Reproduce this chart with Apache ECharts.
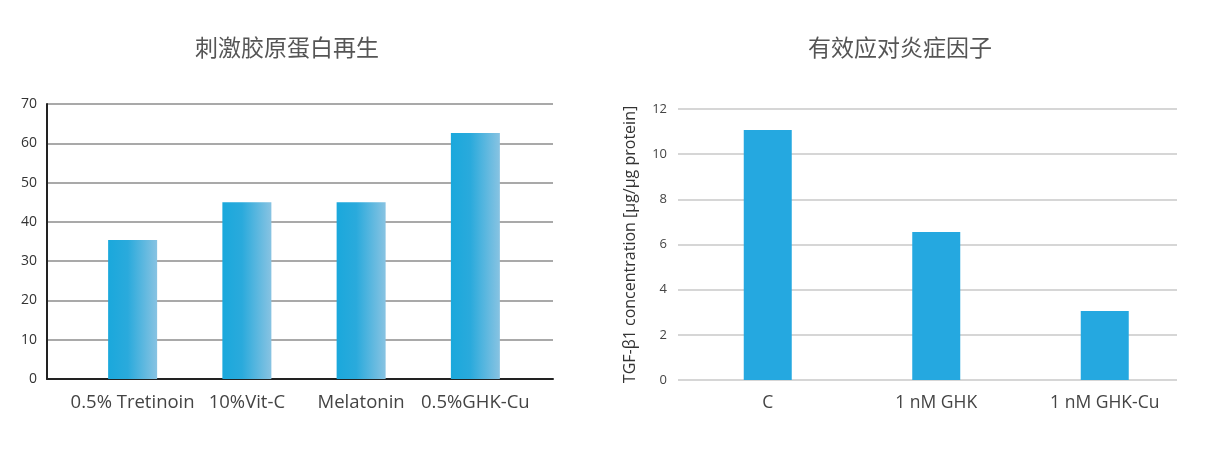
<!DOCTYPE html>
<html>
<head>
<meta charset="utf-8">
<script src="https://cdn.jsdelivr.net/npm/echarts@6/dist/echarts.min.js"></script>
<style>
html,body{margin:0;padding:0;background:#fff;}
#c{width:1211px;height:451px;}
</style>
</head>
<body>
<div id="c"></div>
<script>
const leftTitle = '刺激胶原蛋白再生';
const leftCategories = ['0.5% Tretinoin', '10%Vit-C', 'Melatonin', '0.5%GHK-Cu'];
const leftValues = [35.4, 45.0, 45.0, 62.6];

const rightTitle = '有效应对炎症因子';
const rightCategories = ['C', '1 nM GHK', '1 nM GHK-Cu'];
const rightValues = [11.07, 6.55, 3.05];
const rightAxisName = 'TGF-β1 concentration [μg/μg protein]';

const CJK = '"Noto Sans CJK SC", sans-serif';
const LAT = '"Open Sans", "Noto Sans", sans-serif';
const chart = echarts.init(document.getElementById('c'), null, {renderer: 'canvas'});

const grad = new echarts.graphic.LinearGradient(0, 0, 1, 0, [
  {offset: 0, color: '#1aa8dc'},
  {offset: 0.4, color: '#2aaadc'},
  {offset: 1, color: '#88c3e2'}
]);

chart.setOption({
  animation: false,
  backgroundColor: '#fff',
  textStyle: {fontFamily: LAT},
  title: [
    {text: leftTitle, left: 282, top: 31, textAlign: 'center',
     textStyle: {fontSize: 23, fontWeight: 'normal', color: '#555', fontFamily: CJK}},
    {text: rightTitle, left: 895, top: 31, textAlign: 'center',
     textStyle: {fontSize: 23, fontWeight: 'normal', color: '#555', fontFamily: CJK}}
  ],
  grid: [
    {left: 47, width: 506, top: 104, height: 275},
    {left: 75.5, width: 457, top: 104, height: 275},
    {left: 678, width: 499, top: 109, height: 271},
    {left: 683.5, width: 505.5, top: 109, height: 271}
  ],
  xAxis: [
    {gridIndex: 0, type: 'value', min: 0, max: 1, axisLabel: {show: false}, axisTick: {show: false},
     splitLine: {show: false}, axisLine: {show: true, lineStyle: {color: '#222', width: 2}}},
    {gridIndex: 1, type: 'category', data: leftCategories, axisLine: {show: false}, axisTick: {show: false},
     axisLabel: {interval: 0, fontSize: 18.5, color: '#444', margin: 14, fontFamily: LAT}},
    {gridIndex: 2, type: 'value', min: 0, max: 1, show: false},
    {gridIndex: 3, type: 'category', data: rightCategories, axisLine: {show: false}, axisTick: {show: false},
     axisLabel: {interval: 0, fontSize: 17.5, color: '#444', margin: 14, fontFamily: LAT}}
  ],
  yAxis: [
    {gridIndex: 0, type: 'value', min: 0, max: 70, interval: 10,
     axisLine: {show: true, lineStyle: {color: '#222', width: 2}}, axisTick: {show: false},
     axisLabel: {fontSize: 14, color: '#333', margin: 10, fontFamily: LAT},
     splitLine: {show: true, lineStyle: {color: '#8c8c8c', width: 1.5}}},
    {gridIndex: 1, type: 'value', min: 0, max: 70, show: false},
    {gridIndex: 2, type: 'value', min: 0, max: 12, interval: 2,
     axisLine: {show: false}, axisTick: {show: false},
     axisLabel: {fontSize: 13, color: '#444', margin: 11, fontFamily: LAT},
     splitLine: {show: true, lineStyle: {color: '#c8c8c8', width: 1.5}},
     name: rightAxisName, nameLocation: 'middle', nameRotate: 90, nameGap: 40,
     nameTextStyle: {fontSize: 16, color: '#333', fontFamily: LAT}},
    {gridIndex: 3, type: 'value', min: 0, max: 12, show: false}
  ],
  series: [
    {type: 'bar', xAxisIndex: 1, yAxisIndex: 1, data: leftValues, barWidth: 49,
     itemStyle: {color: grad}},
    {type: 'bar', xAxisIndex: 3, yAxisIndex: 3, data: rightValues, barWidth: 48,
     itemStyle: {color: '#25a8e0'}}
  ]
});
</script>
</body>
</html>
